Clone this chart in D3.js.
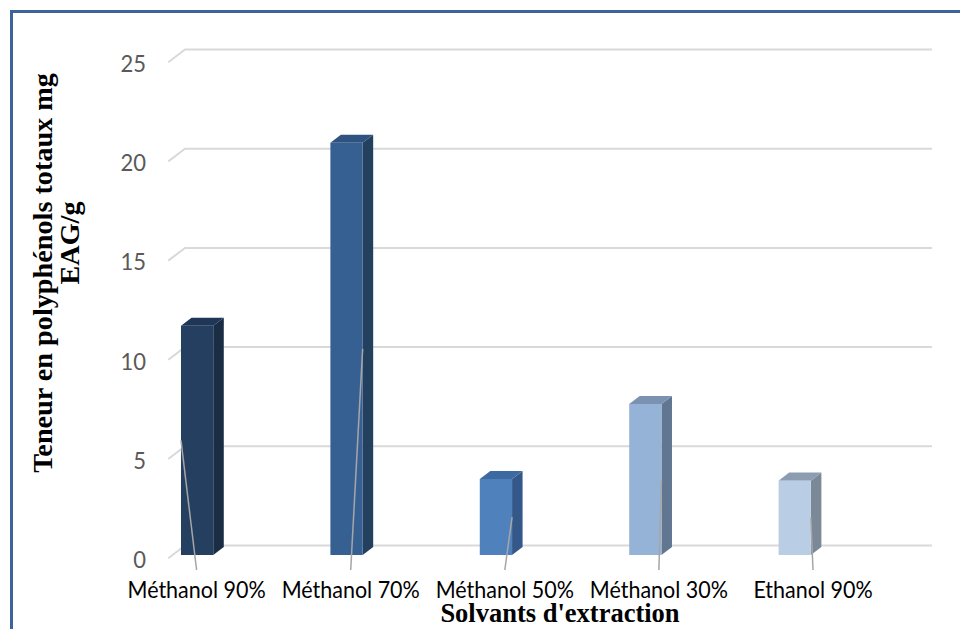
<!DOCTYPE html>
<html>
<head>
<meta charset="utf-8">
<script src="https://cdn.jsdelivr.net/npm/d3@7"></script>
<style>
  html, body { margin: 0; padding: 0; background: #ffffff; }
  svg { display: block; }
</style>
</head>
<body>
<svg id="chart" width="960" height="629"></svg>
<script>
// ---- data ----
const categories = ["Méthanol 90%", "Méthanol 70%", "Méthanol 50%", "Méthanol 30%", "Ethanol 90%"];
const values = [11.56, 20.78, 3.83, 7.61, 3.75];
const yTicks = [0, 5, 10, 15, 20, 25];
const frontColors = ["#243f60", "#376092", "#4f81bd", "#95b3d7", "#b9cde5"];
const sideColors  = ["#1b2d45", "#24405f", "#35588a", "#617690", "#7a8898"];
const topColors   = ["#1f3656", "#2e5381", "#3e6aa2", "#7b92b2", "#8c9db2"];
const yTitleLines = ["Teneur en polyphénols totaux mg", "EAG/g"];
const xTitle = "Solvants d'extraction";

// ---- layout ----
const svg = d3.select("#chart");
const DX = 16.7, DY = 12.7;          // depth offset (front -> back wall)
const Z0 = 0.25, Z1 = 0.88;          // bar depth range
const frontLeft = 168.3, frontRight = 915.3;

const y = d3.scaleLinear().domain([0, 25]).range([558.2, 62.2]);
const x = d3.scaleBand().domain(categories).range([frontLeft, frontRight]).paddingInner(0).paddingOuter(0);
const barOff = x.bandwidth() * 0.057;
const barW = x.bandwidth() * 0.216;
const labelX = d3.scalePoint().domain(categories).range([196.6, 813]);

const proj = (xf, v, z) => [xf + z * DX, y(v) - z * DY];

// frame
svg.append("rect")
  .attr("x", 11.5).attr("y", 11.5)
  .attr("width", 1000).attr("height", 1000)
  .attr("fill", "none").attr("stroke", "#3d6399").attr("stroke-width", 3);

// gridlines
const line = d3.line();
svg.append("g").selectAll("path").data(yTicks).join("path")
  .attr("d", t => line([proj(frontLeft, t, 0), proj(frontLeft, t, 1), proj(frontRight, t, 1)]))
  .attr("fill", "none").attr("stroke", "#d9d9d9").attr("stroke-width", 2);

// tick labels
svg.append("g").selectAll("text").data(yTicks).join("text")
  .attr("transform", t => `translate(146,${y(t) + 1}) scale(1,1.06)`)
  .attr("text-anchor", "end").attr("dominant-baseline", "central")
  .attr("font-family", "Lato, 'Open Sans', sans-serif").attr("font-size", 22)
  .attr("fill", "#595959")
  .text(t => t);

// bars
const bars = svg.append("g").selectAll("g").data(categories).join("g");
bars.each(function (c, i) {
  const g = d3.select(this);
  const v = values[i];
  const xl = x(c) + barOff, xr = xl + barW;
  const fTL = proj(xl, v, Z0), fTR = proj(xr, v, Z0), fBR = proj(xr, 0, Z0), fBL = proj(xl, 0, Z0);
  const bTL = proj(xl, v, Z1), bTR = proj(xr, v, Z1), bBR = proj(xr, 0, Z1);
  g.append("path").attr("d", line([fTR, bTR, bBR, fBR]) + "Z").attr("fill", sideColors[i]);
  g.append("path").attr("d", line([fTL, fTR, bTR, bTL]) + "Z").attr("fill", topColors[i]);
  g.append("path").attr("d", line([fTL, fTR, fBR, fBL]) + "Z").attr("fill", frontColors[i]);
  // leader line from label to the middle of the bar edge
  const lx = labelX(c);
  const cx = (fTL[0] + fTR[0]) / 2;
  const ax = lx < cx ? fTL[0] : fTR[0];
  const ay = (fTL[1] + fBL[1]) / 2;
  g.append("line").attr("x1", lx).attr("y1", 570).attr("x2", ax).attr("y2", ay)
    .attr("stroke", "#a6a6a6").attr("stroke-width", 1.5);
});

// category labels
svg.append("g").selectAll("text").data(categories).join("text")
  .attr("transform", c => `translate(${labelX(c)},598) scale(1,1.06)`)
  .attr("text-anchor", "middle")
  .attr("font-family", "Lato, 'Open Sans', sans-serif").attr("font-size", 21.5)
  .attr("fill", "#000000")
  .text(c => c);

// x title
svg.append("text")
  .attr("x", 560).attr("y", 622)
  .attr("text-anchor", "middle")
  .attr("font-family", "'Liberation Serif', 'Times New Roman', serif")
  .attr("font-weight", "bold").attr("font-size", 26.5)
  .attr("fill", "#000")
  .text(xTitle);

// y title (two lines)
const yt = svg.append("g");
[[52, 273], [79, 243]].forEach((p, k) => {
  yt.append("text")
    .attr("transform", `translate(${p[0]},${p[1]}) rotate(-90) scale(1.045,1)`)
    .attr("text-anchor", "middle")
    .attr("font-family", "'Liberation Serif', 'Times New Roman', serif")
    .attr("font-weight", "bold").attr("font-size", 27)
    .attr("fill", "#000")
    .text(yTitleLines[k]);
});
</script>
</body>
</html>
